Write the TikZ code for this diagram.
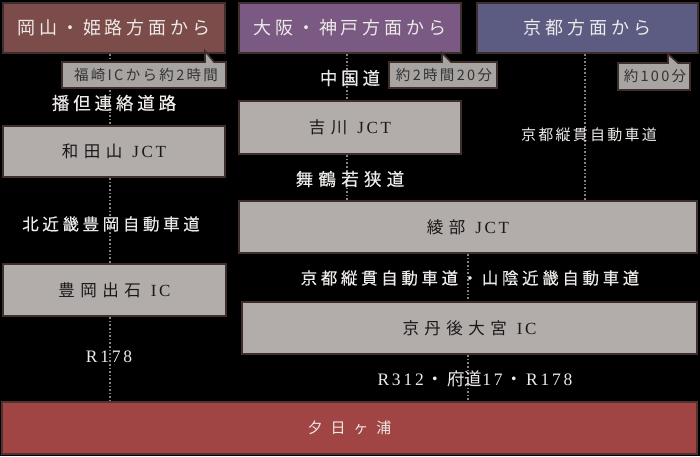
\documentclass[tikz,border=0pt]{standalone}
\usepackage{fontspec}
\setmainfont{Liberation Serif}
\newfontfamily\jp{Noto Sans CJK JP}
\newfontfamily\jpH[LetterSpace=22]{Noto Sans CJK JP}
\newfontfamily\jpR[LetterSpace=22,FakeBold=0.3]{Noto Sans CJK JP}
\newfontfamily\jpS[LetterSpace=30,FakeBold=0.3]{Noto Sans CJK JP}
\newfontfamily\jpB[LetterSpace=16]{Noto Sans CJK JP}
\newfontfamily\jpC[LetterSpace=53]{Noto Sans CJK JP}
\newfontfamily\jpD[LetterSpace=15]{Noto Sans CJK JP}
\newfontfamily\jpX[LetterSpace=33]{Noto Sans CJK JP}
\newfontfamily\serS[LetterSpace=16]{Liberation Serif}
\definecolor{hA}{HTML}{7B4C4A}
\definecolor{hB}{HTML}{7A5A82}
\definecolor{hC}{HTML}{5C5C82}
\definecolor{grayfill}{HTML}{B2ACAA}
\definecolor{callfill}{HTML}{A8A4A2}
\definecolor{edge}{HTML}{3E2E2C}
\definecolor{finfill}{HTML}{A04444}
\definecolor{dotc}{HTML}{8A8282}
\definecolor{lbl}{HTML}{EDEAE8}
\begin{document}
\begin{tikzpicture}[x=1pt,y=-1pt,
  hdr/.style={draw=edge, line width=2pt, inner sep=0pt, text=lbl,
    minimum height=50pt, font=\fontsize{18}{20}\selectfont\jpH},
  gbox/.style={draw=edge, fill=grayfill, line width=2.4pt, inner sep=0pt, text=black!90,
    minimum height=52pt, font=\fontsize{17}{19}\selectfont},
  road/.style={inner sep=0pt, text=lbl, font=\fontsize{16.5}{19}\selectfont\jpR},
  calltext/.style={inner sep=0pt, text=black!80, font=\fontsize{14.5}{16}\selectfont\jpB},
  callshape/.style={draw=edge, fill=callfill, line width=1.6pt, line join=miter},
  dotline/.style={dotc, line width=1.6pt, dash pattern=on 1.6pt off 2pt}]
\useasboundingbox (0,0) rectangle (700,456);
\fill[black] (0,0) rectangle (700,456);

% coordinates for route lines
\coordinate (xl) at (110,0);
\coordinate (xm) at (347,0);
\coordinate (xr) at (585,0);
\coordinate (xb) at (468,0);

% boxes
\node[hdr, fill=hA, minimum width=222pt] (h1) at (114,28) {岡山・姫路方面から};
\node[hdr, fill=hB, minimum width=222pt] (h2) at (350,28) {大阪・神戸方面から};
\node[hdr, fill=hC, minimum width=221pt] (h3) at (587.5,28) {京都方面から};

\node[gbox, minimum width=222pt, minimum height=51pt] (wada) at (114,151.5) {{\fontsize{16.5}{19}\selectfont\jpX 和田山}\hspace{10pt}{\serS JCT}};
\node[gbox, minimum width=223pt] (toyo) at (114.5,290) {{\fontsize{16.5}{19}\selectfont\jpX 豊岡出石}\hspace{10pt}{\serS IC}};
\node[gbox, minimum width=222pt, minimum height=53pt] (yosh) at (350,127.5) {{\fontsize{16.5}{19}\selectfont\jpX 吉川}\hspace{10pt}{\serS JCT}};
\node[gbox, minimum width=458pt] (ayab) at (468,227) {{\fontsize{16.5}{19}\selectfont\jpX 綾部}\hspace{10pt}{\serS JCT}};
\node[gbox, minimum width=455pt] (kyot) at (469.5,328) {{\fontsize{16.5}{19}\selectfont\jpX 京丹後大宮}\hspace{10pt}{\serS IC}};
\node[gbox, fill=finfill, draw=edge!80!finfill, minimum width=695pt, text=lbl,
  font=\fontsize{15}{17}\selectfont\jpC] (fin) at (349.5,428) {夕日ヶ浦};

% route lines (behind labels)
\draw[dotline] (h1.south -| xl) -- (wada.north -| xl);
\draw[dotline] (wada.south -| xl) -- (toyo.north -| xl);
\draw[dotline] (toyo.south -| xl) -- (fin.north -| xl);
\draw[dotline] (h2.south -| xm) -- (yosh.north -| xm);
\draw[dotline] (yosh.south -| xm) -- (ayab.north -| xm);
\draw[dotline] (h3.south -| xr) -- (ayab.north -| xr);
\draw[dotline] (ayab.south -| xb) -- (kyot.north -| xb);
\draw[dotline] (kyot.south -| xb) -- (fin.north -| xb);

% callouts
\draw[callshape] (62,62) -- (205,62) -- (205,51) -- (214,62) -- (226,62) -- (226,88) -- (62,88) -- cycle;
\node[calltext] (c1) at (146,75) {福崎ICから約2時間};
\draw[callshape] (389,62) -- (442,62) -- (442,53) -- (451,62) -- (497,62) -- (497,88) -- (389,88) -- cycle;
\node[calltext] (c2) at (444,75) {約2時間20分};
\draw[callshape] (618,63) -- (668,63) -- (668,54) -- (678,63) -- (690,63) -- (690,90) -- (618,90) -- cycle;
\node[calltext] (c3) at (655,76.5) {約100分};

% road labels
\node[road, font=\fontsize{17.5}{19}\selectfont\jpR] (l1) at (114,103) {播但連絡道路};
\node[road, font=\fontsize{17.5}{19}\selectfont\jpR] (l2) at (350,78) {中国道};
\node[road, font=\fontsize{17.5}{19}\selectfont\jpS] (l3) at (350,179) {舞鶴若狭道};
\node[road, font=\fontsize{15}{17}\selectfont\jpD] (l4) at (589,135) {京都縦貫自動車道};
\node[road, font=\fontsize{16.5}{19}\selectfont\jpR] (l5) at (111,224) {北近畿豊岡自動車道};
\node[road, font=\fontsize{16.5}{19}\selectfont\jpR] (l6) at (470,278) {京都縦貫自動車道・山陰近畿自動車道};
\node[road, font=\fontsize{17.5}{19}\selectfont\serS] (l7) at (109,357) {R178};
\node[road, font=\fontsize{17.5}{19}\selectfont\serS] (l8) at (475,379) {R312\hspace{3pt}{\jp ・}\hspace{3pt}{\jp 府道}17\hspace{3pt}{\jp ・}\hspace{3pt}R178};
\end{tikzpicture}
\end{document}
